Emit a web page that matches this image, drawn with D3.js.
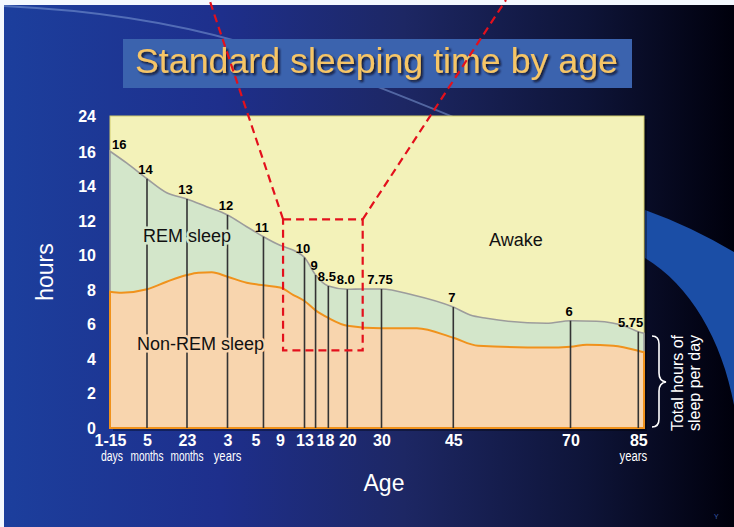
<!DOCTYPE html>
<meta charset="utf-8">
<script src="https://d3js.org/d3.v7.min.js"></script>
<style>
    body {
        margin: 0;
        background: #fff;
    }
    svg {
        display: block;
        font-family: "Liberation Sans", Arial, sans-serif;
    }
</style>
<div id="viz_area"></div>
<script>
    // x axis: age ticks (in years) and their labels
    var tickAges = [0, 5 / 12, 23 / 12, 3, 5, 9, 13, 18, 20, 30, 45, 70, 85]
    var tickLabels = ["1-15", "5", "23", "3", "5", "9", "13", "18", "20", "30", "45", "70", "85"]
    var tickUnits = ["days", "months", "months", "years", "", "", "", "", "", "", "", "", "years"]
    var hourTicks = [0, 2, 4, 6, 8, 10, 12, 14, 16, 24]

    // total sleep per day (top of REM band)
    var totalAges = [0, 0.19, 5 / 12, 1.155, 23 / 12, 2.44, 3, 4.37, 6.3, 9, 11.7, 13, 15.7, 18.3, 20, 24.7, 30, 36.6, 45, 48.6, 52.1, 64.9, 70, 75.8, 82.4, 85, 86.3]
    var totalHours = [16.16, 15.35, 14.45, 13.64, 13.28, 12.83, 12.35, 11.67, 11.09, 10.59, 10.22, 9.88, 8.87, 8.23, 8.04, 8.06, 8.06, 7.71, 7.01, 6.55, 6.36, 6.07, 6.22, 6.19, 5.87, 5.58, 5.49]

    // non-REM sleep
    var nremAges = [0, 0.13, 5 / 12, 1.155, 23 / 12, 2.22, 2.58, 3, 4.37, 6.3, 9, 11.2, 13, 15.7, 18.3, 20, 30, 37.4, 45, 50.3, 64.9, 70, 73.6, 79.5, 85, 86.3]
    var nremHours = [7.90, 7.84, 8.04, 8.48, 8.87, 9.0, 9.03, 8.77, 8.42, 8.27, 8.14, 7.71, 7.36, 6.82, 6.38, 5.93, 5.78, 5.78, 5.23, 4.77, 4.66, 4.71, 4.83, 4.77, 4.48, 4.39]

    // labelled markers
    var markerAges = [0, 5 / 12, 23 / 12, 3, 6.3, 13, 15.7, 18.3, 20, 30, 45, 70, 85]
    var markerLabels = ["16", "14", "13", "12", "11", "10", "9", "8.5", "8.0", "7.75", "7", "6", "5.75"]

    var W = 734,
        H = 527

    var svg = d3.select("#viz_area").append("svg")
        .attr("width", W)
        .attr("height", H)

    var defs = svg.append("defs")
    var bg = defs.append("linearGradient").attr("id", "bg")
    bg.append("stop").attr("offset", "0%").attr("stop-color", "#1c3f9d")
    bg.append("stop").attr("offset", "30%").attr("stop-color", "#1e2f8c")
    bg.append("stop").attr("offset", "55%").attr("stop-color", "#1d2764")
    bg.append("stop").attr("offset", "80%").attr("stop-color", "#0e1438")
    bg.append("stop").attr("offset", "100%").attr("stop-color", "#00000c")

    var shadow = defs.append("filter").attr("id", "tshadow")
        .attr("x", "-5%").attr("y", "-20%").attr("width", "110%").attr("height", "150%")
    shadow.append("feDropShadow").attr("dx", 2).attr("dy", 2).attr("stdDeviation", 1)
        .attr("flood-color", "#0b1024").attr("flood-opacity", 0.9)

    // background
    svg.append("rect").attr("width", W).attr("height", H).attr("fill", "url(#bg)")
    svg.append("path")
        .attr("d", "M4,6 C90,10 170,22 240,42 C320,62 400,95 480,128")
        .attr("fill", "none").attr("stroke", "#7e9ad6").attr("stroke-opacity", 0.55).attr("stroke-width", 2)
    svg.append("path")
        .attr("d", "M645,210 Q690,226 734,252 L734,405 C722,340 690,285 645,258 Z")
        .attr("fill", "#1b4ea6")

    // scales
    var x = d3.scaleLinear()
        .domain(tickAges.concat([86.3]))
        .range([110, 147, 187, 227.5, 255.5, 280, 304.5, 325, 347.3, 381.5, 453.3, 570.5, 638.3, 644])
    var y = d3.scaleLinear()
        .domain([0, 16, 24])
        .range([428, 152, 116])

    var x0 = x(0),
        x1 = x(86.3)

    // title
    svg.append("rect")
        .attr("x", 123).attr("y", 39).attr("width", 509).attr("height", 49)
        .attr("fill", "#3b63ae")
    svg.append("text")
        .attr("x", 135).attr("y", 73)
        .attr("font-size", 35)
        .attr("textLength", 483)
        .attr("lengthAdjust", "spacingAndGlyphs")
        .attr("fill", "#f6c566")
        .attr("filter", "url(#tshadow)")
        .text("Standard sleeping time by age")

    // plot background
    svg.append("rect")
        .attr("x", x0 + 3).attr("y", y(24) + 3)
        .attr("width", x1 - x0).attr("height", y(0) - y(24))
        .attr("fill", "#000").attr("opacity", 0.35)
    svg.append("rect")
        .attr("x", x0).attr("y", y(24))
        .attr("width", x1 - x0).attr("height", y(0) - y(24))
        .attr("fill", "#f3f2b9")
        .attr("stroke", "#d2cc6c").attr("stroke-width", 1)

    var totalPts = totalAges.map(function(a, i) {
        return [a, totalHours[i]]
    })
    var nremPts = nremAges.map(function(a, i) {
        return [a, nremHours[i]]
    })

    var area = d3.area()
        .x(function(d) {
            return x(d[0])
        })
        .y0(y(0))
        .y1(function(d) {
            return y(d[1])
        })
        .curve(d3.curveMonotoneX)

    svg.append("path").datum(totalPts)
        .attr("d", area)
        .attr("fill", "#d3e6ca")
        .attr("stroke", "#9c9c9c").attr("stroke-width", 1.6)
    svg.append("path").datum(nremPts)
        .attr("d", area)
        .attr("fill", "#f8d5ae")
        .attr("stroke", "#f0921c").attr("stroke-width", 2)

    function totalAt(a) {
        var i = d3.bisectLeft(totalAges, a)
        if (totalAges[i] === a) return totalHours[i]
        var t = (a - totalAges[i - 1]) / (totalAges[i] - totalAges[i - 1])
        return totalHours[i - 1] + t * (totalHours[i] - totalHours[i - 1])
    }

    // marker lines
    svg.append("g").selectAll("line")
        .data(markerAges.filter(function(a) {
            return a > 0
        }))
        .enter().append("line")
        .attr("x1", function(d) {
            return x(d)
        })
        .attr("x2", function(d) {
            return x(d)
        })
        .attr("y1", y(0))
        .attr("y2", function(d) {
            return y(totalAt(d))
        })
        .attr("stroke", "#333").attr("stroke-width", 1.6)

    // area names (stroke in fill colour breaks the marker lines)
    function areaName(tx, ty, txt, bgc) {
        svg.append("text")
            .attr("x", tx).attr("y", ty)
            .attr("font-size", 18)
            .attr("fill", "#111")
            .attr("stroke", bgc).attr("stroke-width", 5)
            .attr("paint-order", "stroke")
            .text(txt)
    }
    areaName(143, 242, "REM sleep", "#d3e6ca")
    areaName(137, 350, "Non-REM sleep", "#f8d5ae")
    areaName(489, 246, "Awake", "#f3f2b9")

    // marker values
    svg.append("g").selectAll("text")
        .data(markerAges)
        .enter().append("text")
        .attr("x", function(d, i) {
            if (i === 0) return x(d) + 2
            if (i === markerAges.length - 1) return x(d) + 5
            return x(d) - 1.5
        })
        .attr("y", function(d, i) {
            return y(totalAt(d)) - (i === 0 ? 2 : 5)
        })
        .attr("text-anchor", function(d, i) {
            if (i === 0) return "start"
            if (i === markerAges.length - 1) return "end"
            return "middle"
        })
        .attr("font-size", 13)
        .attr("font-weight", "bold")
        .attr("fill", "#000")
        .text(function(d, i) {
            return markerLabels[i]
        })

    // axes
    var yAxis = svg.append("g")
        .attr("transform", "translate(96,0)")
        .call(d3.axisLeft(y).tickValues(hourTicks).tickSize(0).tickPadding(0).tickFormat(d3.format("d")))
    yAxis.select(".domain").remove()
    yAxis.selectAll("text")
        .attr("fill", "#fff")
        .attr("font-size", 16)
        .attr("font-weight", "bold")
        .attr("font-family", "Liberation Sans, Arial, sans-serif")

    var xAxis = svg.append("g")
        .attr("transform", "translate(0," + y(0) + ")")
        .call(d3.axisBottom(x).tickValues(tickAges).tickSize(0).tickPadding(7)
            .tickFormat(function(d, i) {
                return tickLabels[i]
            }))
    xAxis.select(".domain").remove()
    xAxis.selectAll("text")
        .attr("fill", "#fff")
        .attr("font-size", 16)
        .attr("font-weight", "bold")
        .attr("font-family", "Liberation Sans, Arial, sans-serif")

    // condensed unit line under the tick labels
    var units = tickAges.map(function(a, i) {
        return {
            age: a,
            unit: tickUnits[i],
            first: i === 0,
            last: i === tickAges.length - 1
        }
    }).filter(function(d) {
        return d.unit !== ""
    })
    svg.append("g").selectAll("text")
        .data(units)
        .enter().append("text")
        .attr("x", function(d) {
            return x(d.age) + (d.first ? 2 : (d.last ? -5 : 0))
        })
        .attr("y", 461)
        .attr("text-anchor", "middle")
        .attr("font-size", 14)
        .attr("fill", "#fff")
        .attr("lengthAdjust", "spacingAndGlyphs")
        .attr("textLength", function(d) {
            return d.unit.length * 5.5
        })
        .text(function(d) {
            return d.unit
        })

    svg.append("text")
        .attr("x", 384).attr("y", 491)
        .attr("text-anchor", "middle")
        .attr("font-size", 23)
        .attr("fill", "#fff")
        .text("Age")

    svg.append("text")
        .attr("transform", "translate(53,272) rotate(-90)")
        .attr("text-anchor", "middle")
        .attr("font-size", 23)
        .attr("fill", "#fff")
        .text("hours")

    // bracket + side note
    svg.append("path")
        .attr("d", "M652,336 Q659,336 659,344 L659,373 Q659,381 666,382 Q659,383 659,391 L659,419 Q659,427 652,427")
        .attr("fill", "none").attr("stroke", "#fff").attr("stroke-width", 1.6)
    svg.append("text")
        .attr("transform", "translate(683,383) rotate(-90)")
        .attr("text-anchor", "middle")
        .attr("font-size", 16)
        .attr("fill", "#fff")
        .text("Total hours of")
    svg.append("text")
        .attr("transform", "translate(700,383) rotate(-90)")
        .attr("text-anchor", "middle")
        .attr("font-size", 16)
        .attr("fill", "#fff")
        .text("sleep per day")

    svg.append("text")
        .attr("x", 714).attr("y", 519)
        .attr("font-size", 7)
        .attr("fill", "#3a5bb0")
        .text("Y")

    // white page edge
    svg.append("rect").attr("width", W).attr("height", 5).attr("fill", "#f3f8fe")
    svg.append("rect").attr("width", 4).attr("height", H).attr("fill", "#f3f8fe")

    // red dashed zoom box
    var boxAges = [9.5, 24.5],
        boxHours = [4.5, 12.1]
    var red = svg.append("g")
        .attr("fill", "none")
        .attr("stroke", "#e3101c")
        .attr("stroke-width", 2.2)
        .attr("stroke-dasharray", "8,5")
    red.append("rect")
        .attr("x", x(boxAges[0])).attr("y", y(boxHours[1]))
        .attr("width", x(boxAges[1]) - x(boxAges[0]))
        .attr("height", y(boxHours[0]) - y(boxHours[1]))
    red.append("line")
        .attr("x1", x(boxAges[0])).attr("y1", y(boxHours[1]))
        .attr("x2", 209.5).attr("y2", 0)
    red.append("line")
        .attr("x1", x(boxAges[1])).attr("y1", y(boxHours[1]))
        .attr("x2", 506).attr("y2", 0)
</script>
